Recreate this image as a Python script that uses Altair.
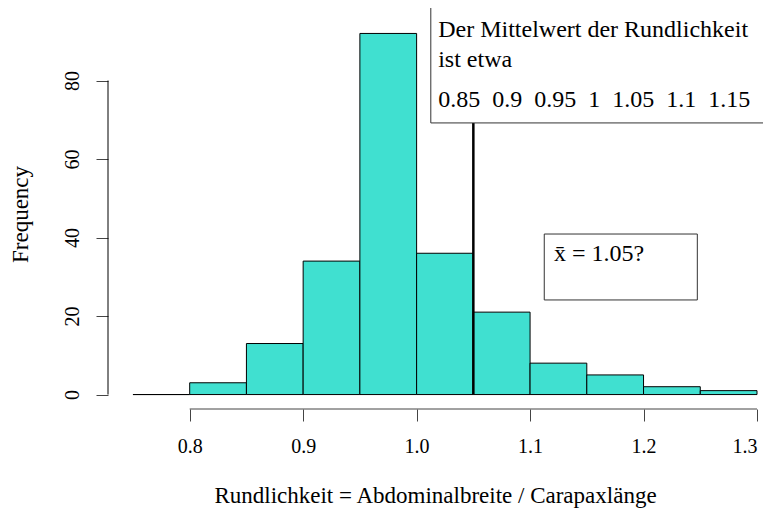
import altair as alt
import pandas as pd

# histogram bins (left edges) and counts
bin_start = [0.75, 0.80, 0.85, 0.90, 0.95, 1.00, 1.05, 1.10, 1.15, 1.20, 1.25]
bin_end = [0.80, 0.85, 0.90, 0.95, 1.00, 1.05, 1.10, 1.15, 1.20, 1.25, 1.30]
counts = [0, 3, 13, 34, 92, 36, 21, 8, 5, 2, 1]

x_ticks = [0.8, 0.9, 1.0, 1.1, 1.2, 1.3]
y_ticks = [0, 20, 40, 60, 80]

mean_guess = [1.05]

legend1_numbers = ["0.85", "0.9", "0.95", "1", "1.05", "1.1", "1.15"]
legend1_lines = ["Der Mittelwert der Rundlichkeit", "ist etwa",
                 "\u00a0\u00a0".join(legend1_numbers)]
legend1_y = [92.9, 85.2, 75.0]
legend1_box = {"x": 1.0125, "x2": 1.40, "y": 98.8, "y2": 69.2}

legend2_text = ["x\u0304 = 1.05?"]
legend2_box = {"x": 1.1125, "x2": 1.2474, "y": 40.9, "y2": 24.1}
legend2_pos = {"x": 1.121, "y": 35.8}

FONT = "Liberation Serif"
X_DOMAIN = [0.728, 1.3]
Y_DOMAIN = [-3.68, 95.68]

hist = pd.DataFrame({"start": bin_start, "end": bin_end, "count": counts})

xs = alt.Scale(domain=X_DOMAIN, nice=False, zero=False)
ys = alt.Scale(domain=Y_DOMAIN, nice=False, zero=False)

bars = alt.Chart(hist).mark_rect(fill="#40E0D0", stroke="black", strokeWidth=1).encode(
    x=alt.X("start:Q", scale=xs,
            axis=alt.Axis(values=x_ticks, domain=False, grid=False, tickSize=12, tickColor="#444",
                          labelExpr="format(datum.value, '.1f')", labelFlush=True,
                          labelFontSize=20, labelFont=FONT, labelColor="black", labelPadding=15,
                          title="Rundlichkeit = Abdominalbreite / Carapaxlänge",
                          titleFont=FONT, titleFontSize=23, titleFontWeight="normal",
                          titleColor="black", titlePadding=28, titleX=327)),
    x2="end:Q",
    y=alt.Y("count:Q", scale=ys,
            axis=alt.Axis(values=y_ticks, domain=False, grid=False, tickSize=12, tickColor="#444",
                          labelAngle=270, labelAlign="center", labelBaseline="bottom",
                          labelFontSize=20, labelFont=FONT, labelColor="black", labelPadding=14,
                          title="Frequency", titleFont=FONT, titleFontSize=23,
                          titleFontWeight="normal", titleColor="black", titlePadding=30)),
    y2=alt.datum(0),
)

x_axis_line = alt.Chart(pd.DataFrame({"a": [x_ticks[0]], "b": [x_ticks[-1]]})).mark_rule(
    color="#444", strokeWidth=1).encode(
    x=alt.X("a:Q", scale=xs), x2="b:Q", y=alt.value(390))

y_axis_line = alt.Chart(pd.DataFrame({"a": [y_ticks[0]], "b": [y_ticks[-1]]})).mark_rule(
    color="black", strokeWidth=1).encode(
    y=alt.Y("a:Q", scale=ys), y2="b:Q", x=alt.value(0))

vline = alt.Chart(pd.DataFrame({"m": mean_guess, "lo": [0], "hi": [110]})).mark_rule(
    color="black", strokeWidth=2.5, clip=True).encode(
    x=alt.X("m:Q", scale=xs), y=alt.Y("lo:Q", scale=ys), y2="hi:Q")

box1 = alt.Chart(pd.DataFrame([legend1_box])).mark_rect(
    fill="white", stroke="#333", strokeWidth=1).encode(
    x=alt.X("x:Q", scale=xs), x2="x2:Q", y=alt.Y("y:Q", scale=ys), y2="y2:Q")

text1 = alt.Chart(pd.DataFrame({"t": legend1_lines, "y": legend1_y,
                                "x": [1.019] * 3})).mark_text(
    align="left", baseline="middle", font=FONT, fontSize=24, color="black").encode(
    x=alt.X("x:Q", scale=xs), y=alt.Y("y:Q", scale=ys), text="t:N")

box2 = alt.Chart(pd.DataFrame([legend2_box])).mark_rect(
    fill="white", stroke="#333", strokeWidth=1).encode(
    x=alt.X("x:Q", scale=xs), x2="x2:Q", y=alt.Y("y:Q", scale=ys), y2="y2:Q")

text2 = alt.Chart(pd.DataFrame({"t": legend2_text, "x": [legend2_pos["x"]],
                                "y": [legend2_pos["y"]]})).mark_text(
    align="left", baseline="middle", font=FONT, fontSize=24, color="black").encode(
    x=alt.X("x:Q", scale=xs), y=alt.Y("y:Q", scale=ys), text="t:N")

chart = alt.layer(bars, x_axis_line, y_axis_line, vline, box1, text1, box2, text2).properties(
    width=649, height=390,
    autosize=alt.AutoSizeParams(type="none"),
    padding={"left": 100, "top": 11, "right": 6, "bottom": 101},
).configure_view(stroke=None)

chart.save("out.html", embed_options={"renderer": "svg", "actions": False})
